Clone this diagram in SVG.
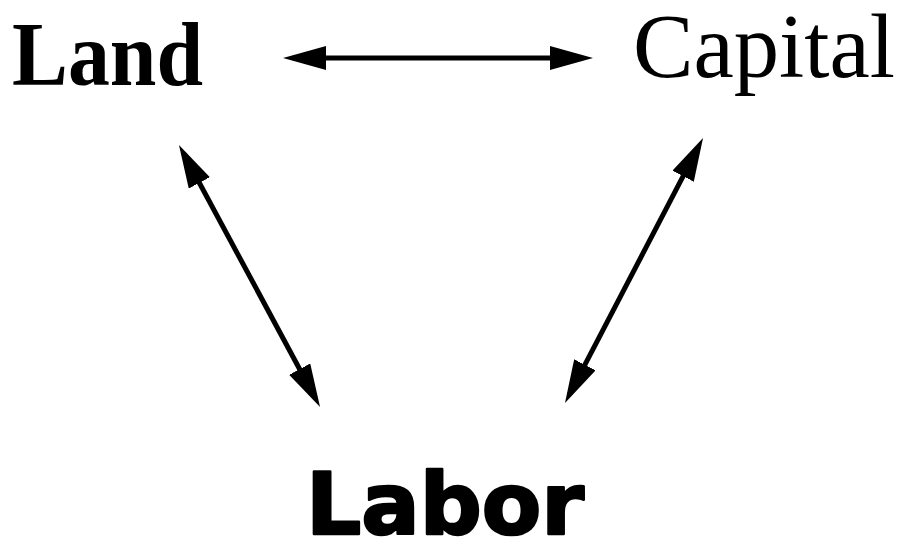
<svg xmlns="http://www.w3.org/2000/svg" width="900" height="542" viewBox="0 0 900 542">
<defs>
<style>
.conn{stroke:#000;stroke-width:5;fill:none;marker-start:url(#ah);marker-end:url(#ah)}
.land{font-family:"Liberation Serif",serif;font-weight:bold;font-size:90px;fill:#000}
.cap{font-family:"Liberation Serif",serif;font-size:91px;fill:#000}
.labor{font-family:"DejaVu Sans","Liberation Sans",sans-serif;font-weight:bold;font-size:85px;fill:#000;stroke:#000;stroke-width:2.5;stroke-linejoin:round}
</style>
<marker id="ah" viewBox="0 0 43 24" refX="33" refY="12" markerWidth="43" markerHeight="24" markerUnits="userSpaceOnUse" orient="auto-start-reverse">
<path d="M0,0 L43,12 L0,24 z" fill="#000"/>
</marker>
</defs>
<rect width="900" height="542" fill="#fff"/>
<g id="land"><text class="land" x="12" y="85" textLength="191" lengthAdjust="spacingAndGlyphs">Land</text></g>
<g id="capital"><text class="cap" x="633" y="77" textLength="262" lengthAdjust="spacingAndGlyphs">Capital</text></g>
<g id="labor"><text class="labor" x="306" y="534" textLength="278" lengthAdjust="spacingAndGlyphs">Labor</text></g>
<g id="connectors">
<line class="conn" x1="293" y1="58" x2="583" y2="58"/>
<line class="conn" x1="183.7" y1="153.8" x2="315.3" y2="398.2"/>
<line class="conn" x1="698.4" y1="146.9" x2="569.6" y2="394.1"/>
</g>
</svg>
